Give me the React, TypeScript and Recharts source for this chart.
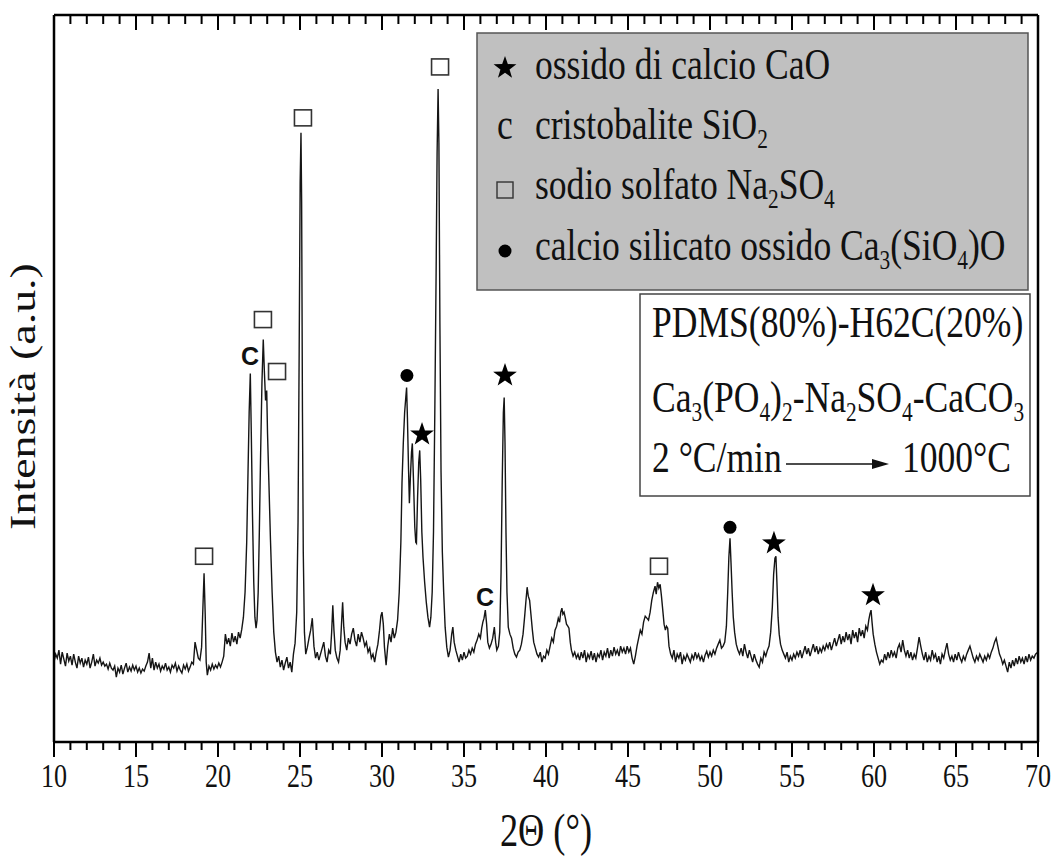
import React from "react";
import { ComposedChart, Line, Scatter, XAxis, YAxis } from "recharts";

// XRD trace: [2θ (°), intensity (a.u.)]
const scan10to20: [number, number][] = [
  [10.0, 80], [10.1, 88], [10.2, 84], [10.3, 92], [10.4, 78], [10.5, 90], [10.6, 83], [10.7, 76], [10.8, 89], [10.9, 81],
  [11.0, 86], [11.1, 77], [11.2, 88], [11.3, 80], [11.4, 74], [11.5, 86], [11.6, 79], [11.7, 84], [11.8, 75], [11.9, 82],
  [12.0, 78], [12.1, 85], [12.2, 74], [12.3, 80], [12.4, 88], [12.5, 76], [12.6, 82], [12.7, 79], [12.8, 84], [12.9, 77],
  [13.0, 80], [13.1, 76], [13.2, 78], [13.3, 73], [13.4, 79], [13.5, 74], [13.6, 72], [13.7, 76], [13.8, 65], [13.9, 74],
  [14.0, 70], [14.1, 77], [14.2, 68], [14.3, 74], [14.4, 79], [14.5, 70], [14.6, 75], [14.7, 71], [14.8, 77], [14.9, 72],
  [15.0, 76], [15.1, 70], [15.2, 74], [15.3, 69], [15.4, 73], [15.5, 71], [15.6, 76], [15.7, 80], [15.8, 89], [15.9, 74],
  [16.0, 84], [16.1, 72], [16.2, 80], [16.3, 74], [16.4, 78], [16.5, 71], [16.6, 76], [16.7, 73], [16.8, 79], [16.9, 72],
  [17.0, 75], [17.1, 70], [17.2, 77], [17.3, 74], [17.4, 79], [17.5, 71], [17.6, 76], [17.7, 72], [17.8, 69], [17.9, 77],
  [18.0, 73], [18.1, 78], [18.2, 71], [18.3, 75], [18.4, 80], [18.5, 78], [18.6, 100], [18.7, 92], [18.8, 84], [18.9, 82],
  [19.0, 95], [19.07, 130], [19.15, 169], [19.22, 128], [19.28, 80], [19.35, 67], [19.45, 76], [19.55, 72], [19.65, 78],
  [19.75, 73], [19.85, 77], [19.95, 74],
];

const scan20to30: [number, number][] = [
  [20.05, 79], [20.15, 75], [20.25, 80], [20.35, 86], [20.45, 108], [20.55, 98], [20.65, 104], [20.75, 96], [20.85, 109],
  [20.95, 100], [21.05, 106], [21.15, 98], [21.25, 110], [21.35, 104], [21.45, 113], [21.55, 125], [21.65, 150], [21.75, 200],
  [21.83, 270], [21.9, 330], [21.97, 369], [22.03, 310], [22.1, 230], [22.18, 160], [22.25, 125], [22.32, 114], [22.38, 122],
  [22.45, 150], [22.52, 210], [22.6, 290], [22.68, 360], [22.76, 403], [22.83, 370], [22.9, 342], [22.97, 352], [23.02, 309],
  [23.1, 262], [23.2, 202], [23.3, 150], [23.4, 110], [23.5, 90], [23.6, 80], [23.7, 86], [23.8, 75], [23.9, 82], [24.0, 72],
  [24.1, 79], [24.2, 85], [24.3, 74], [24.4, 80], [24.5, 70], [24.6, 88], [24.7, 99], [24.8, 130], [24.88, 220], [24.95, 392],
  [25.01, 560], [25.06, 610], [25.1, 540], [25.15, 330], [25.2, 190], [25.27, 110], [25.35, 88], [25.45, 95], [25.55, 104],
  [25.65, 112], [25.75, 124], [25.85, 96], [25.95, 84], [26.05, 90], [26.15, 82], [26.25, 88], [26.35, 94], [26.45, 100],
  [26.55, 86], [26.65, 80], [26.75, 92], [26.85, 88], [26.93, 110], [27.0, 137], [27.07, 112], [27.15, 92], [27.25, 84],
  [27.35, 80], [27.45, 92], [27.53, 118], [27.6, 140], [27.67, 115], [27.75, 100], [27.85, 92], [27.95, 104], [28.05, 98],
  [28.15, 108], [28.25, 114], [28.35, 102], [28.45, 96], [28.55, 108], [28.65, 100], [28.75, 110], [28.85, 104], [28.95, 96],
  [29.05, 100], [29.15, 90], [29.25, 94], [29.35, 84], [29.45, 88], [29.55, 80], [29.65, 90], [29.75, 98], [29.85, 112],
  [29.93, 126],
];

const scan30to40: [number, number][] = [
  [30.0, 130], [30.08, 118], [30.15, 95], [30.25, 77], [30.35, 96], [30.45, 108], [30.55, 100], [30.65, 114], [30.75, 104],
  [30.85, 110], [30.95, 122], [31.05, 150], [31.15, 200], [31.22, 260], [31.3, 300], [31.38, 330], [31.45, 345], [31.5, 355],
  [31.55, 325], [31.62, 272], [31.67, 239], [31.73, 265], [31.8, 290], [31.85, 299], [31.92, 262], [32.0, 215], [32.06, 200],
  [32.1, 199], [32.17, 245], [32.24, 280], [32.3, 292], [32.36, 262], [32.43, 210], [32.5, 185], [32.6, 160], [32.7, 140],
  [32.8, 125], [32.9, 115], [32.98, 125], [33.06, 150], [33.14, 210], [33.22, 330], [33.3, 470], [33.36, 590], [33.42, 654],
  [33.47, 600], [33.53, 420], [33.6, 270], [33.68, 190], [33.76, 150], [33.85, 115], [33.95, 95], [34.05, 85], [34.15, 92],
  [34.25, 108], [34.32, 115], [34.4, 100], [34.5, 92], [34.6, 86], [34.7, 80], [34.8, 88], [34.9, 82], [35.0, 90], [35.1, 84],
  [35.2, 86], [35.3, 92], [35.4, 88], [35.5, 94], [35.6, 90], [35.7, 98], [35.8, 102], [35.9, 108], [36.0, 104], [36.08, 114],
  [36.15, 120], [36.22, 124], [36.3, 132], [36.38, 118], [36.45, 100], [36.55, 94], [36.65, 98], [36.75, 104], [36.85, 115],
  [36.93, 100], [37.0, 92], [37.1, 96], [37.18, 110], [37.26, 170], [37.33, 260], [37.4, 330], [37.45, 345], [37.5, 300],
  [37.56, 210], [37.62, 150], [37.7, 115], [37.8, 108], [37.9, 104], [38.0, 94], [38.1, 88], [38.2, 85], [38.3, 90], [38.4, 92],
  [38.5, 98], [38.6, 108], [38.7, 126], [38.78, 142], [38.85, 155], [38.92, 146], [39.0, 142], [39.08, 128], [39.17, 112],
  [39.25, 100], [39.35, 94], [39.45, 88], [39.55, 85], [39.65, 90], [39.75, 80], [39.85, 86], [39.95, 84],
];

const scan40to50: [number, number][] = [
  [40.05, 92], [40.15, 88], [40.25, 96], [40.35, 104], [40.45, 100], [40.55, 112], [40.65, 116], [40.75, 124], [40.83, 120],
  [40.9, 130], [40.97, 134], [41.03, 128], [41.1, 130], [41.18, 124], [41.25, 118], [41.33, 116], [41.4, 114], [41.48, 100],
  [41.55, 92], [41.65, 86], [41.75, 90], [41.85, 84], [41.95, 88], [42.05, 82], [42.15, 90], [42.25, 84], [42.35, 92],
  [42.45, 80], [42.55, 88], [42.65, 84], [42.75, 91], [42.85, 82], [42.95, 89], [43.05, 80], [43.15, 88], [43.25, 85],
  [43.35, 92], [43.45, 82], [43.55, 90], [43.65, 86], [43.75, 94], [43.85, 84], [43.95, 92], [44.05, 86], [44.15, 95],
  [44.25, 88], [44.35, 92], [44.45, 86], [44.55, 96], [44.65, 90], [44.75, 94], [44.85, 88], [44.95, 96], [45.05, 90],
  [45.15, 94], [45.25, 84], [45.35, 78], [45.45, 86], [45.55, 96], [45.65, 104], [45.75, 112], [45.85, 108], [45.95, 120],
  [46.05, 126], [46.15, 124], [46.25, 122], [46.35, 130], [46.45, 142], [46.55, 150], [46.65, 156], [46.72, 148], [46.8, 160],
  [46.88, 154], [46.96, 158], [47.04, 146], [47.12, 132], [47.2, 118], [47.28, 112], [47.35, 116], [47.42, 114], [47.5, 96],
  [47.6, 88], [47.7, 84], [47.8, 92], [47.9, 80], [48.0, 88], [48.1, 84], [48.2, 90], [48.3, 78], [48.4, 86], [48.5, 82],
  [48.6, 88], [48.7, 84], [48.8, 80], [48.9, 87], [49.0, 83], [49.1, 90], [49.2, 84], [49.3, 88], [49.4, 82], [49.5, 86],
  [49.6, 80], [49.7, 87], [49.8, 91], [49.9, 85],
];

const scan50to60: [number, number][] = [
  [50.0, 90], [50.1, 86], [50.2, 92], [50.3, 88], [50.4, 94], [50.5, 98], [50.6, 102], [50.7, 94], [50.8, 96], [50.9, 100],
  [51.0, 116], [51.08, 150], [51.15, 185], [51.22, 204], [51.28, 180], [51.35, 150], [51.42, 125], [51.5, 110], [51.6, 98],
  [51.7, 92], [51.8, 88], [51.9, 94], [52.0, 86], [52.1, 98], [52.2, 90], [52.3, 84], [52.4, 92], [52.5, 86], [52.6, 80],
  [52.7, 88], [52.8, 82], [52.9, 78], [53.0, 75], [53.1, 84], [53.2, 80], [53.3, 90], [53.4, 86], [53.5, 92], [53.6, 96],
  [53.7, 110], [53.8, 135], [53.88, 168], [53.96, 184], [54.02, 186], [54.08, 160], [54.15, 125], [54.22, 108], [54.3, 98],
  [54.4, 92], [54.5, 88], [54.6, 84], [54.7, 90], [54.8, 80], [54.9, 86], [55.0, 82], [55.1, 88], [55.2, 84], [55.3, 90],
  [55.4, 86], [55.5, 92], [55.6, 84], [55.7, 90], [55.8, 96], [55.9, 88], [56.0, 94], [56.1, 86], [56.2, 92], [56.3, 98],
  [56.4, 90], [56.5, 96], [56.6, 88], [56.7, 94], [56.8, 90], [56.9, 96], [57.0, 92], [57.1, 98], [57.2, 94], [57.3, 100],
  [57.4, 92], [57.5, 98], [57.6, 104], [57.7, 96], [57.8, 102], [57.9, 108], [58.0, 98], [58.1, 106], [58.2, 100], [58.3, 110],
  [58.4, 102], [58.5, 108], [58.6, 98], [58.7, 112], [58.8, 104], [58.9, 110], [59.0, 100], [59.1, 114], [59.2, 106],
  [59.3, 112], [59.4, 104], [59.5, 116], [59.6, 112], [59.68, 122], [59.75, 128], [59.82, 132], [59.88, 120], [59.95, 108],
];

const scan60to70: [number, number][] = [
  [60.05, 98], [60.15, 90], [60.25, 84], [60.35, 78], [60.45, 82], [60.55, 80], [60.65, 88], [60.75, 82], [60.85, 90],
  [60.95, 84], [61.05, 92], [61.15, 86], [61.25, 90], [61.35, 84], [61.45, 94], [61.55, 98], [61.65, 90], [61.75, 102],
  [61.85, 92], [61.95, 86], [62.05, 92], [62.15, 84], [62.25, 90], [62.35, 82], [62.45, 88], [62.55, 84], [62.65, 94],
  [62.75, 105], [62.85, 96], [62.95, 88], [63.05, 82], [63.15, 90], [63.25, 80], [63.35, 86], [63.45, 82], [63.55, 92],
  [63.65, 84], [63.75, 88], [63.85, 80], [63.95, 86], [64.05, 78], [64.15, 88], [64.25, 84], [64.35, 92], [64.45, 99],
  [64.55, 88], [64.65, 82], [64.75, 86], [64.85, 80], [64.95, 88], [65.05, 82], [65.15, 90], [65.25, 84], [65.35, 80],
  [65.45, 86], [65.55, 82], [65.65, 88], [65.75, 92], [65.85, 96], [65.95, 90], [66.05, 84], [66.15, 80], [66.25, 86],
  [66.35, 82], [66.45, 88], [66.55, 84], [66.65, 80], [66.75, 86], [66.85, 82], [66.95, 88], [67.05, 84], [67.15, 90],
  [67.25, 94], [67.35, 100], [67.45, 104], [67.55, 96], [67.65, 88], [67.75, 84], [67.85, 78], [67.95, 82], [68.05, 76],
  [68.15, 70], [68.25, 80], [68.35, 74], [68.45, 82], [68.55, 76], [68.65, 84], [68.75, 78], [68.85, 86], [68.95, 80],
  [69.05, 84], [69.15, 78], [69.25, 86], [69.35, 80], [69.45, 88], [69.55, 82], [69.65, 86], [69.75, 84], [69.85, 88],
  [70.0, 90],
];

// phase markers placed over the peaks
const sodioSolfato = [
  { x: 19.15, y: 186 }, { x: 22.74, y: 423 }, { x: 23.6, y: 371 },
  { x: 25.18, y: 625 }, { x: 33.54, y: 676 }, { x: 46.89, y: 176 },
];
const ossidoCalcio = [
  { x: 32.44, y: 308 }, { x: 37.5, y: 367 }, { x: 53.9, y: 199 }, { x: 59.94, y: 147 },
];
const calcioSilicato = [{ x: 31.52, y: 367 }, { x: 51.22, y: 215 }];
const cristobalite = [{ x: 21.95, y: 387 }, { x: 36.28, y: 145 }];

const xTicks = [
  10, 11, 12, 13, 14, 15, 16, 17, 18, 19, 20, 21, 22, 23, 24, 25, 26, 27, 28, 29, 30,
  31, 32, 33, 34, 35, 36, 37, 38, 39, 40, 41, 42, 43, 44, 45, 46, 47, 48, 49, 50,
  51, 52, 53, 54, 55, 56, 57, 58, 59, 60, 61, 62, 63, 64, 65, 66, 67, 68, 69, 70,
];

const legendRows = [
  { mark: "star", text: "ossido di calcio CaO", baseline: 79 },
  { mark: "c", text: "cristobalite SiO{2}", baseline: 139 },
  { mark: "square", text: "sodio solfato Na{2}SO{4}", baseline: 199 },
  { mark: "dot", text: "calcio silicato ossido Ca{3}(SiO{4})O", baseline: 260 },
];

const pattern = [...scan10to20, ...scan20to30, ...scan30to40, ...scan40to50, ...scan50to60, ...scan60to70].map(
  ([x, y]) => ({ x, y })
);

const SERIF = "'Liberation Serif', 'Times New Roman', serif";
const SX = 0.79; // the picture is squeezed sideways
const FS = 45; // legend / note font size

function starPoints(cx: number, cy: number, R: number, r: number) {
  const pts: string[] = [];
  for (let i = 0; i < 10; i++) {
    const a = -Math.PI / 2 + (i * Math.PI) / 5;
    const rad = i % 2 === 0 ? R : r;
    pts.push(`${cx + rad * Math.cos(a)},${cy + rad * Math.sin(a)}`);
  }
  return pts.join(" ");
}

function chem(text: string, size: number) {
  const parts = text.split(/\{(\d+)\}/);
  const shift = size * 0.2;
  let low = false;
  return parts.map((p, i) => {
    if (!p) return null;
    const sub = i % 2 === 1;
    let dy: number | undefined;
    if (sub && !low) { dy = shift; low = true; }
    else if (!sub && low) { dy = -shift; low = false; }
    return (
      <tspan key={i} fontSize={sub ? size * 0.6 : size} dy={dy}>
        {p}
      </tspan>
    );
  });
}

function BottomTick({ x, y, payload }: any) {
  const v = payload.value;
  const major = v % 5 === 0;
  return (
    <g>
      <line x1={x} x2={x} y1={y} y2={y + (major ? 15 : 8)} stroke="#000" strokeWidth={2} />
      {major && (
        <text transform={`translate(${x},${y + 45}) scale(${SX},1)`} textAnchor="middle"
          fontFamily={SERIF} fontSize={33} fill="#111">
          {v}
        </text>
      )}
    </g>
  );
}

function TopTick({ x, y, payload }: any) {
  const major = payload.value % 5 === 0;
  return <line x1={x} x2={x} y1={y} y2={y + (major ? 15 : 9)} stroke="#000" strokeWidth={2} />;
}

function XTitle({ viewBox }: any) {
  const { x, y, width } = viewBox;
  return (
    <text transform={`translate(${x + width / 2},${y + 104}) scale(${SX},1)`} textAnchor="middle"
      fontFamily={SERIF} fontSize={46} fill="#111">
      2Θ (°)
    </text>
  );
}

function YTitle({ viewBox }: any) {
  const { y, height } = viewBox;
  return (
    <text transform={`translate(35,${y + height / 2 + 18}) scale(${SX},1) rotate(-90)`} textAnchor="middle"
      fontFamily={SERIF} fontSize={46} fill="#111">
      Intensità (a.u.)
    </text>
  );
}

const SquareMark = ({ cx, cy }: any) => (
  <rect x={cx - 8.5} y={cy - 8} width={17} height={16} fill="#fff" stroke="#333" strokeWidth={1.6} />
);
const StarMark = ({ cx, cy }: any) => <polygon points={starPoints(cx, cy, 12.5, 5)} fill="#000" />;
const DotMark = ({ cx, cy }: any) => <circle cx={cx} cy={cy} r={6.5} fill="#000" />;
const CMark = ({ cx, cy }: any) => (
  <text x={cx} y={cy + 9} textAnchor="middle" fontFamily="'Liberation Sans', Arial, sans-serif"
    fontSize={25} fontWeight={700} fill="#111">
    C
  </text>
);

function LegendMark({ mark, baseline }: { mark: string; baseline: number }) {
  const cx = 505;
  if (mark === "star") return <polygon points={starPoints(cx, baseline - 11, 12, 4.8)} fill="#000" />;
  if (mark === "square")
    return <rect x={cx - 8} y={baseline - 17} width={16} height={16} fill="none" stroke="#333" strokeWidth={1.4} />;
  if (mark === "dot") return <circle cx={cx} cy={baseline - 9} r={6.5} fill="#000" />;
  return (
    <text transform={`translate(${cx},${baseline}) scale(${SX},1)`} textAnchor="middle"
      fontFamily={SERIF} fontSize={FS} fill="#111">
      c
    </text>
  );
}

export default function App() {
  return (
    <div style={{ position: "absolute", left: 0, top: 0, width: 1058, height: 856, background: "#fff" }}>
      <ComposedChart width={1058} height={856} margin={{ top: 14, right: 0, bottom: 0, left: 0 }}>
        <XAxis xAxisId="b" type="number" dataKey="x" domain={[10, 70]} ticks={xTicks} interval={0}
          allowDataOverflow height={114} tickSize={0} tickMargin={0} tickLine={false} tick={<BottomTick />}
          axisLine={{ stroke: "#000", strokeWidth: 2.5 }} label={<XTitle />} />
        <XAxis xAxisId="t" orientation="top" type="number" dataKey="x" domain={[10, 70]} ticks={xTicks}
          interval={0} allowDataOverflow height={1} tickSize={0} tickMargin={0} tickLine={false}
          tick={<TopTick />} axisLine={{ stroke: "#000", strokeWidth: 2.5 }} />
        <YAxis yAxisId="l" type="number" dataKey="y" domain={[0, 728]} allowDataOverflow width={54}
          tick={false} tickLine={false} axisLine={{ stroke: "#000", strokeWidth: 2.5 }} label={<YTitle />} />
        <YAxis yAxisId="r" orientation="right" type="number" dataKey="y" domain={[0, 728]} allowDataOverflow
          width={20} tick={false} tickLine={false} axisLine={{ stroke: "#000", strokeWidth: 2.5 }} />

        {/* invisible copy so the top and right frame axes are drawn */}
        <Line xAxisId="t" yAxisId="r" data={pattern} dataKey="y" stroke="none" dot={false} activeDot={false}
          isAnimationActive={false} />
        <Line xAxisId="b" yAxisId="l" data={pattern} dataKey="y" type="linear" stroke="#151515"
          strokeWidth={1.4} dot={false} activeDot={false} isAnimationActive={false} />

        <Scatter xAxisId="b" yAxisId="l" data={sodioSolfato} dataKey="y" shape={<SquareMark />} isAnimationActive={false} />
        <Scatter xAxisId="b" yAxisId="l" data={ossidoCalcio} dataKey="y" shape={<StarMark />} isAnimationActive={false} />
        <Scatter xAxisId="b" yAxisId="l" data={calcioSilicato} dataKey="y" shape={<DotMark />} isAnimationActive={false} />
        <Scatter xAxisId="b" yAxisId="l" data={cristobalite} dataKey="y" shape={<CMark />} isAnimationActive={false} />
      </ComposedChart>

      {/* legend + sample note */}
      <svg width={1058} height={856} style={{ position: "absolute", left: 0, top: 0, pointerEvents: "none" }}>
        <rect x={477} y={33} width={551} height={257} fill="#c0c0c0" stroke="#555" strokeWidth={1.5} />
        {legendRows.map((row) => (
          <g key={row.text}>
            <LegendMark mark={row.mark} baseline={row.baseline} />
            <text transform={`translate(535,${row.baseline}) scale(${SX},1)`} fontFamily={SERIF} fill="#111">
              {chem(row.text, FS)}
            </text>
          </g>
        ))}

        <rect x={640} y={294} width={390} height={202} fill="#fff" stroke="#444" strokeWidth={1.5} />
        <text transform={`translate(652,337) scale(${SX},1)`} fontFamily={SERIF} fontSize={FS} fill="#111">
          PDMS(80%)-H62C(20%)
        </text>
        <text transform={`translate(652,412) scale(${SX},1)`} fontFamily={SERIF} fill="#111">
          {chem("Ca{3}(PO{4}){2}-Na{2}SO{4}-CaCO{3}", FS)}
        </text>
        <text transform={`translate(652,472) scale(${SX},1)`} fontFamily={SERIF} fontSize={FS} fill="#111">
          2 °C/min
        </text>
        <line x1={786} x2={874} y1={464} y2={464} stroke="#111" strokeWidth={1.5} />
        <polygon points="872,459 889,464 872,469" fill="#111" />
        <text transform={`translate(902,472) scale(${SX},1)`} fontFamily={SERIF} fontSize={FS} fill="#111">
          1000°C
        </text>
      </svg>
    </div>
  );
}
